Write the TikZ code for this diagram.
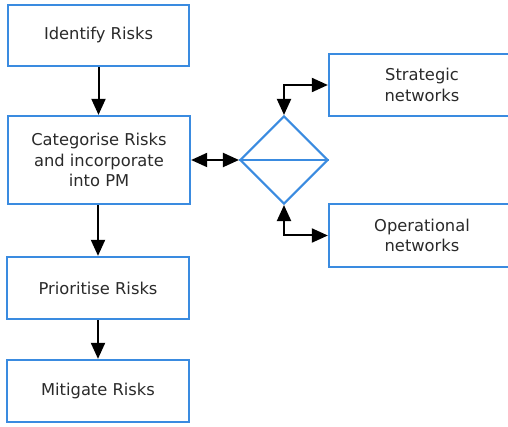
\documentclass[tikz,border=0pt]{standalone}
\usepackage{fontspec}
\setmainfont{DejaVu Sans}
\usetikzlibrary{arrows.meta,shapes.geometric}
\definecolor{boxblue}{HTML}{3A8BE0}
\definecolor{txt}{HTML}{2A2A2A}
\tikzset{
  stepbox/.style={draw=boxblue, line width=2.3pt, fill=white, rectangle,
    inner sep=0pt, align=center, text=txt, font=\fontsize{16.3}{20.5}\selectfont},
  tip/.tip={Triangle[length=16pt,width=14pt]},
  flow/.style={draw=black, line width=2pt, -tip},
  flow2/.style={draw=black, line width=2pt, tip-tip},
}
\begin{document}
\begin{tikzpicture}[x=1pt,y=-1pt]
  \useasboundingbox (0,0) rectangle (508,427);
  \clip (0,0) rectangle (508,427);
  \fill[white] (0,0) rectangle (508,427);

  % main process column
  \node[stepbox, minimum width=181pt, minimum height=61pt] (id)  at (98.5,35.5) {Identify Risks};
  \node[stepbox, minimum width=182pt, minimum height=88pt] (cat) at (99,160) {Categorise Risks\\and incorporate\\into PM};
  \node[stepbox, minimum width=182pt, minimum height=62pt] (pri) at (98,288) {Prioritise Risks};
  \node[stepbox, minimum width=182pt, minimum height=62pt] (mit) at (98,391) {Mitigate Risks};

  % decision diamond
  \node[draw=boxblue, line width=2.1pt, diamond, aspect=1, minimum size=88pt, inner sep=0pt] (dia) at (284,160) {};
  \draw[draw=boxblue, line width=1.8pt] (dia.west) -- (dia.east);

  % network boxes
  \node[stepbox, minimum width=186pt, minimum height=62pt] (str) at (422,85) {Strategic\\networks};
  \node[stepbox, minimum width=186pt, minimum height=63pt] (ope) at (422,235.5) {Operational\\networks};

  % connectors
  \draw[flow] (id.south) -- (id.south |- cat.north);
  \draw[flow] (cat.south -| pri.north) -- (pri.north);
  \draw[flow] (pri.south) -- (mit.north);
  \draw[flow2] (cat.east) -- (dia.west);
  \draw[flow2] (dia.north) |- (str.west);
  \draw[flow2] (dia.south) |- (ope.west);
\end{tikzpicture}
\end{document}
